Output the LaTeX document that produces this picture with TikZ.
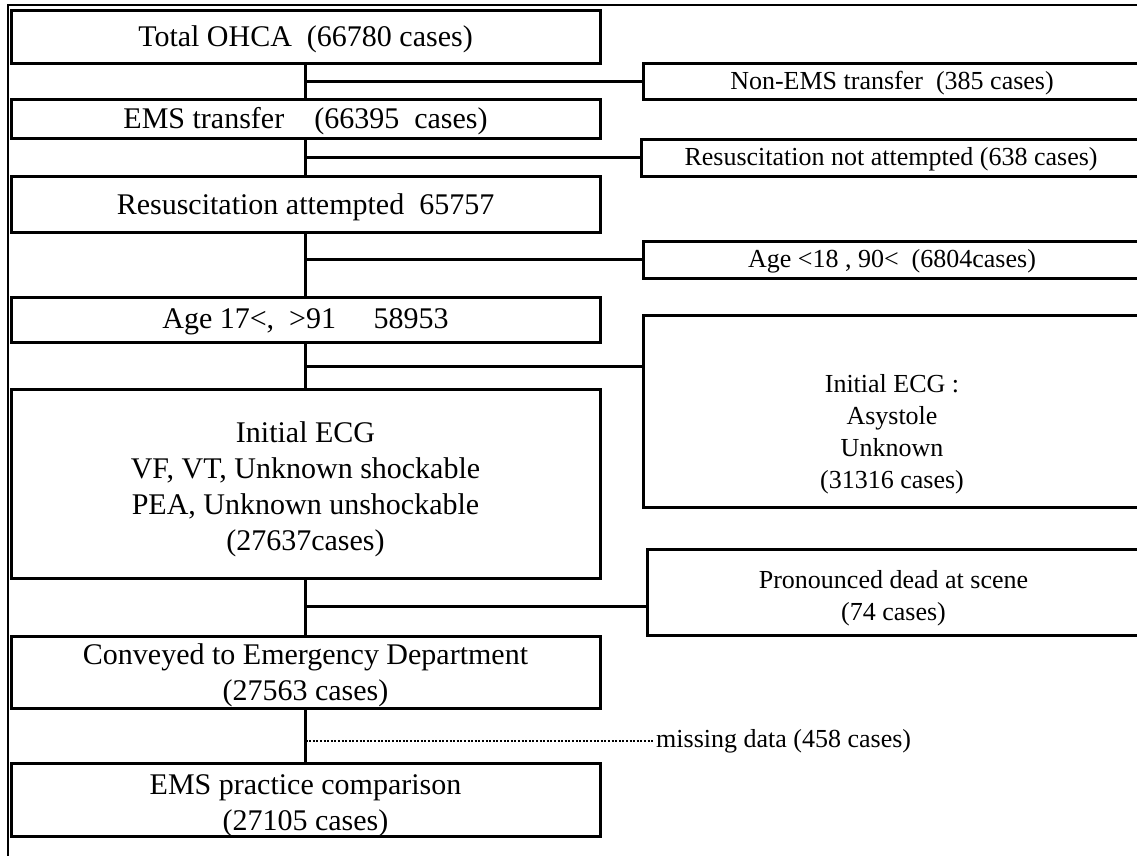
\documentclass[tikz,border=0pt]{standalone}
\usepackage{fontspec}
\setmainfont{Liberation Serif}
\newcommand\mybx[2]{\raisebox{#1}[\height][\depth]{\begin{tabular}{@{}c@{}}#2\end{tabular}}}
\begin{document}
\begin{tikzpicture}[x=1pt,y=-1pt,
  lbox/.style={draw, line width=3pt, inner sep=0pt, minimum width=589, font=\fontsize{30}{36}\selectfont},
  rbox/.style={draw, line width=3pt, inner sep=0pt, minimum width=497, font=\fontsize{26}{32}\selectfont},
  conn/.style={line width=3pt},
  dotconn/.style={line width=2.6pt, dash pattern=on 2pt off 1.6pt},
  frameline/.style={line width=1.5pt},
  note/.style={inner sep=3pt, font=\fontsize{26}{32}\selectfont}]
\clip (0,0) rectangle (1137,855);
\fill[white] (0,0) rectangle (1137,855);
% frame
\draw[frameline] (8,860) -- (8,5) -- (1140,5);
% left column
\node[lbox, minimum height=53] (b1) at (305.5,36.5) {\mybx{-3pt}{Total OHCA\ \ (66780 cases)}};
\node[lbox, minimum height=39] (b2) at (305.5,118.5) {\mybx{-3pt}{EMS transfer\quad(66395\ \ cases)}};
\node[lbox, minimum height=56] (b3) at (305.5,204) {\mybx{-3pt}{Resuscitation attempted\ \ 65757}};
\node[lbox, minimum height=45] (b4) at (305.5,319.5) {\mybx{-2pt}{Age 17<,\ \ >91\quad\ 58953}};
\node[lbox, minimum height=189] (b5) at (305.5,483.5) {\mybx{-6pt}{Initial ECG\\VF, VT, Unknown shockable\\PEA, Unknown unshockable\\(27637cases)}};
\node[lbox, minimum height=71] (b6) at (305.5,672.5) {\mybx{-3pt}{Conveyed to Emergency Department\\(27563 cases)}};
\node[lbox, minimum height=73] (b7) at (305.5,799.5) {\mybx{-6pt}{EMS practice comparison\\(27105 cases)}};
% right column
\node[rbox, minimum height=36] (r1) at (892,81) {\mybx{-2pt}{Non-EMS transfer\ \ (385 cases)}};
\node[rbox, minimum height=37, minimum width=499] (r2) at (891,157.5) {\mybx{-2pt}{Resuscitation not attempted (638 cases)}};
\node[rbox, minimum height=37] (r3) at (892,259.5) {\mybx{-2pt}{Age <18 , 90<\ \ (6804cases)}};
\node[rbox, minimum height=192] (r4) at (892,411) {\raisebox{-29pt}[0pt][0pt]{\begin{tabular}{@{}c@{}}Initial ECG :\\Asystole\\Unknown\\(31316 cases)\end{tabular}}};
\node[rbox, minimum height=86, minimum width=493] (r5) at (893.5,592) {\mybx{-6pt}{Pronounced dead at scene\\(74 cases)}};
\node[note, anchor=west] (m) at (653,741) {missing data (458 cases)};
% junctions
\coordinate (j4) at (305.5,366);
\coordinate (j5) at (305.5,606);
% main spine
\draw[conn] (b1.south) -- (b2.north);
\draw[conn] (b2.south) -- (b3.north);
\draw[conn] (b3.south) -- (b4.north);
\draw[conn] (b4.south) -- (b5.north);
\draw[conn] (b5.south) -- (b6.north);
\draw[conn] (b6.south) -- (b7.north);
% branches
\draw[conn] (b1.south |- r1.west) -- (r1.west);
\draw[conn] (b2.south |- r2.west) -- (r2.west);
\draw[conn] (b3.south |- r3.west) -- (r3.west);
\draw[conn] (j4) -- (j4 -| r4.west);
\draw[conn] (j5) -- (j5 -| r5.west);
\draw[dotconn] (b6.south |- m.west) -- (m.west);
\end{tikzpicture}
\end{document}
